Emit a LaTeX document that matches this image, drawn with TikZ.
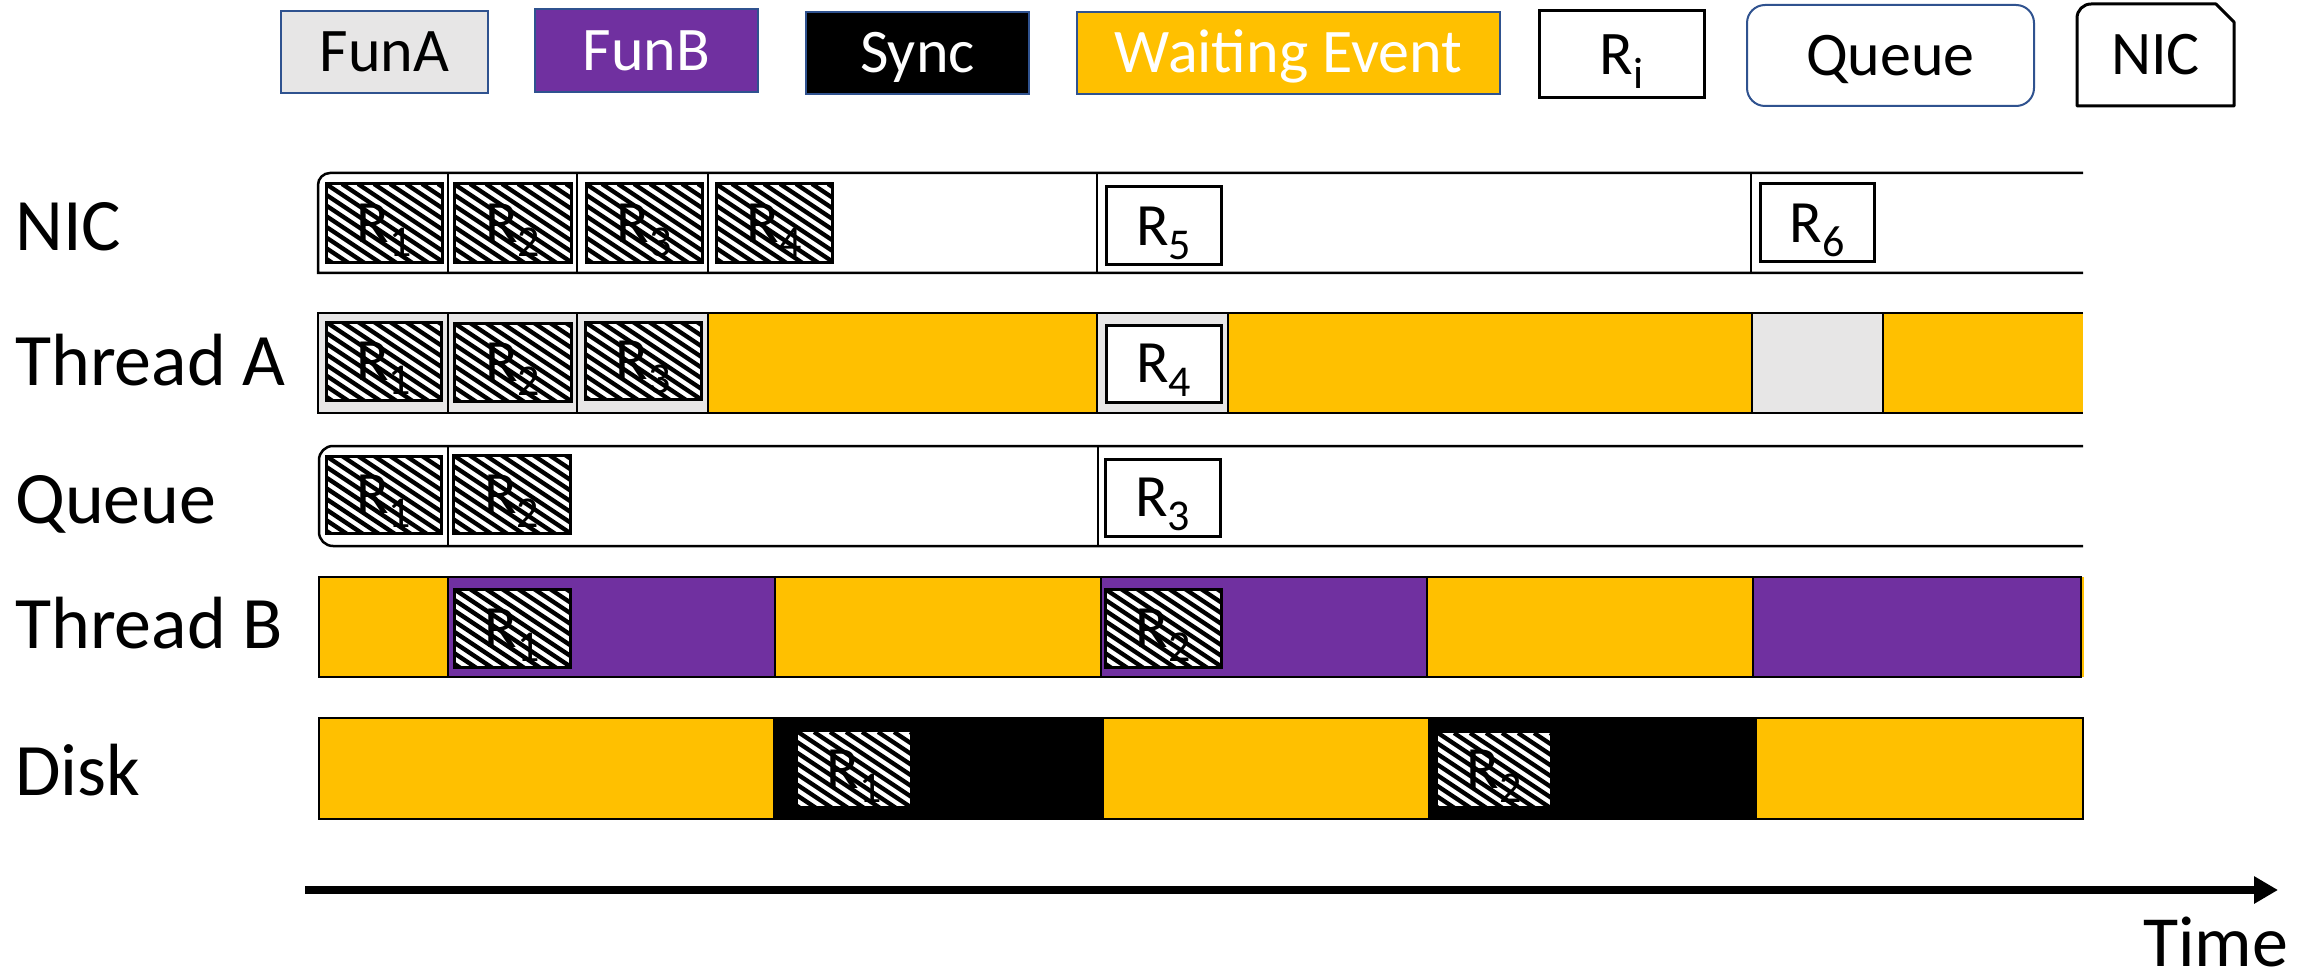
\documentclass[tikz,border=0pt]{standalone}
\usepackage{fontspec}
\setmainfont{Carlito}
\usetikzlibrary{calc,arrows.meta}

\definecolor{funa}{HTML}{E7E6E6}
\definecolor{funb}{HTML}{7030A0}
\definecolor{waitc}{HTML}{FFC000}
\definecolor{lgborder}{HTML}{2F528F}

% R with a lowered index
\newcommand\Rsub[1]{R\raisebox{-14pt}{\fontsize{44}{44}\selectfont #1}}

% box given by its corners (x1,y1)-(x2,y2), y measured downwards
\newcommand\cellbox[7]{%
  \pgfmathsetmacro\cbw{#4-#2}\pgfmathsetmacro\cbh{#5-#3}%
  \node[cellbase,#6,minimum width=\cbw pt,minimum height=\cbh pt] (#1) at (#2,#3) {#7};}

\tikzset{
  cellbase/.style={anchor=north west, inner sep=0pt, outer sep=0pt},
  lgtext/.style={font=\fontsize{62}{62}\selectfont, text height=40pt, text depth=0pt},
  lg/.style={lgtext, draw=lgborder, line width=2pt},
  rtext/.style={font=\fontsize{60}{60}\selectfont, text height=38.6pt, text depth=0pt},
  hatch/.style={path picture={
      \foreach \k in {-9,...,8}{
        \draw[line width=4.3pt, black]
          ([xshift=\k*16pt]path picture bounding box.north west) -- ++(180pt,-120pt);}}},
  hbox/.style={hatch, fill=white, draw=black, line width=3pt, rtext},
  hbare/.style={hatch, fill=white, rtext},
  rbox/.style={fill=white, draw=black, line width=3pt, rtext},
  rowline/.style={line width=2.5pt, black},
  divline/.style={line width=2pt, black},
  cellB/.style={draw=black, line width=2pt},
  rowlabel/.style={anchor=base west, inner sep=0pt, text depth=0pt, font=\fontsize{74}{74}\selectfont},
}

\begin{document}
\begin{tikzpicture}[x=1pt,y=-1pt]
\useasboundingbox (0,0) rectangle (2318,976);

% ---------- legend ----------
\cellbox{lgA}{281}{11}{488}{93}{lg, fill=funa}{FunA}
\cellbox{lgB}{535}{9}{758}{92}{lg, fill=funb, text=white}{FunB}
\cellbox{lgS}{806}{12}{1029}{94}{lg, fill=black, text=white}{Sync}
\cellbox{lgW}{1077}{12}{1500}{94}{lg, fill=waitc, text=white}{Waiting Event}
\cellbox{lgR}{1539}{11}{1704}{98}{lgtext, fill=white, draw=black, line width=3pt}{\Rsub{i}}
\cellbox{lgQ}{1747}{5}{2034}{106}{lg, fill=white, rounded corners=18pt}{Queue}
\cellbox{lgN}{2077}{4}{2234}{106}{lgtext}{NIC}
\draw[line width=3pt, line join=round]
  ([xshift=14pt]lgN.north west) -- ([xshift=-18pt]lgN.north east)
  -- ([yshift=-18pt]lgN.north east) -- (lgN.south east) -- (lgN.south west)
  -- ([yshift=-14pt]lgN.north west) arc[start angle=180, end angle=90, radius=14pt];

% ---------- row labels ----------
\node[rowlabel] (lNIC) at (15,251) {NIC};
\node[rowlabel] (lA)   at (15,385) {Thread A};
\node[rowlabel] (lQ)   at (15,523) {Queue};
\node[rowlabel] (lB)   at (15,648) {Thread B};
\node[rowlabel] (lD)   at (15,795) {Disk};

% ---------- NIC ----------
\cellbox{n1}{318}{173}{448}{273}{fill=white}{}
\cellbox{n2}{448}{173}{577}{273}{fill=white}{}
\cellbox{n3}{577}{173}{708}{273}{fill=white}{}
\cellbox{n4}{708}{173}{1097}{273}{fill=white}{}
\cellbox{n5}{1097}{173}{1751}{273}{fill=white}{}
\cellbox{n6}{1751}{173}{2083}{273}{fill=white}{}
\draw[rowline] (n6.north east) -- ([xshift=12pt]n1.north west)
  arc[start angle=90, end angle=180, radius=12pt] -- (n1.south west) -- (n6.south east);
\foreach \c in {n1,n2,n3,n4,n5}{\draw[divline] (\c.north east) -- (\c.south east);}
\cellbox{nr1}{326}{184}{442}{263}{hbox}{\Rsub{1}}
\cellbox{nr2}{454}{184}{571}{263}{hbox}{\Rsub{2}}
\cellbox{nr3}{586}{184}{702}{263}{hbox}{\Rsub{3}}
\cellbox{nr4}{716}{184}{832}{263}{hbox}{\Rsub{4}}
\cellbox{nr5}{1106}{187}{1221}{265}{rbox}{\Rsub{5}}
\cellbox{nr6}{1760}{184}{1874}{262}{rbox}{\Rsub{6}}

% ---------- Thread A ----------
\cellbox{a1}{318}{313}{448}{413}{fill=funa}{}
\cellbox{a2}{448}{313}{577}{413}{fill=funa}{}
\cellbox{a3}{577}{313}{708}{413}{fill=funa}{}
\cellbox{a4}{708}{313}{1097}{413}{fill=waitc}{}
\cellbox{a5}{1097}{313}{1228}{413}{fill=funa}{}
\cellbox{a6}{1228}{313}{1752}{413}{fill=waitc}{}
\cellbox{a7}{1752}{313}{1883}{413}{fill=funa}{}
\cellbox{a8}{1883}{313}{2083}{413}{fill=waitc}{}
\draw[rowline] (a8.north east) -- (a1.north west) -- (a1.south west) -- (a8.south east);
\foreach \c in {a1,a2,a3,a4,a5,a6,a7}{\draw[divline] (\c.north east) -- (\c.south east);}
\cellbox{ar1}{326}{322}{441}{400}{hbox}{\Rsub{1}}
\cellbox{ar2}{454}{323}{571}{401}{hbox}{\Rsub{2}}
\cellbox{ar3}{585}{322}{701}{399}{hbox}{\Rsub{3}}
\cellbox{ar4}{1106}{325}{1221}{402}{rbox}{\Rsub{4}}

% ---------- Queue ----------
\cellbox{q1}{319}{446}{448}{546}{fill=white}{}
\cellbox{q2}{448}{446}{1098}{546}{fill=white}{}
\cellbox{q3}{1098}{446}{2083}{546}{fill=white}{}
\draw[rowline] (q3.north east) -- ([xshift=14pt]q1.north west)
  arc[start angle=90, end angle=180, radius=14pt] -- ([yshift=14pt]q1.south west)
  arc[start angle=180, end angle=270, radius=14pt] -- (q3.south east);
\foreach \c in {q1,q2}{\draw[divline] (\c.north east) -- (\c.south east);}
\cellbox{qr1}{326}{456}{441}{533}{hbox}{\Rsub{1}}
\cellbox{qr2}{453}{455}{570}{533}{hbox}{\Rsub{2}}
\cellbox{qr3}{1105}{459}{1220}{536}{rbox}{\Rsub{3}}

% ---------- Thread B ----------
\cellbox{b7}{2081}{577}{2084}{677}{fill=waitc}{}
\cellbox{b1}{319}{577}{448}{677}{cellB, fill=waitc}{}
\cellbox{b2}{448}{577}{775}{677}{cellB, fill=funb}{}
\cellbox{b3}{775}{577}{1101}{677}{cellB, fill=waitc}{}
\cellbox{b4}{1101}{577}{1427}{677}{cellB, fill=funb}{}
\cellbox{b5}{1427}{577}{1753}{677}{cellB, fill=waitc}{}
\cellbox{b6}{1753}{577}{2081}{677}{cellB, fill=funb}{}
\cellbox{br1}{454}{589}{570}{667}{hbox}{\Rsub{1}}
\cellbox{br2}{1105}{589}{1221}{667}{hbox}{\Rsub{2}}

% ---------- Disk ----------
\cellbox{d1}{319}{718}{774}{819}{cellB, fill=waitc}{}
\cellbox{d2}{774}{718}{1103}{819}{cellB, fill=black}{}
\cellbox{d3}{1103}{718}{1429}{819}{cellB, fill=waitc}{}
\cellbox{d4}{1429}{718}{1756}{819}{cellB, fill=black}{}
\cellbox{d5}{1756}{718}{2083}{819}{cellB, fill=waitc}{}
\cellbox{dr1}{798}{732}{910}{806}{hbare}{\Rsub{1}}
\cellbox{dr2}{1438}{733}{1550}{806}{hbare}{\Rsub{2}}

% ---------- time axis ----------
\coordinate (tstart) at (305,890);
\coordinate (tend) at (2278,890);
\draw[line width=8pt, -{Triangle[length=24pt,width=26pt]}] (tstart) -- (tend);
\node[rowlabel, font=\fontsize{72}{72}\selectfont] (ltime) at (2143,966) {Time};
\end{tikzpicture}
\end{document}
